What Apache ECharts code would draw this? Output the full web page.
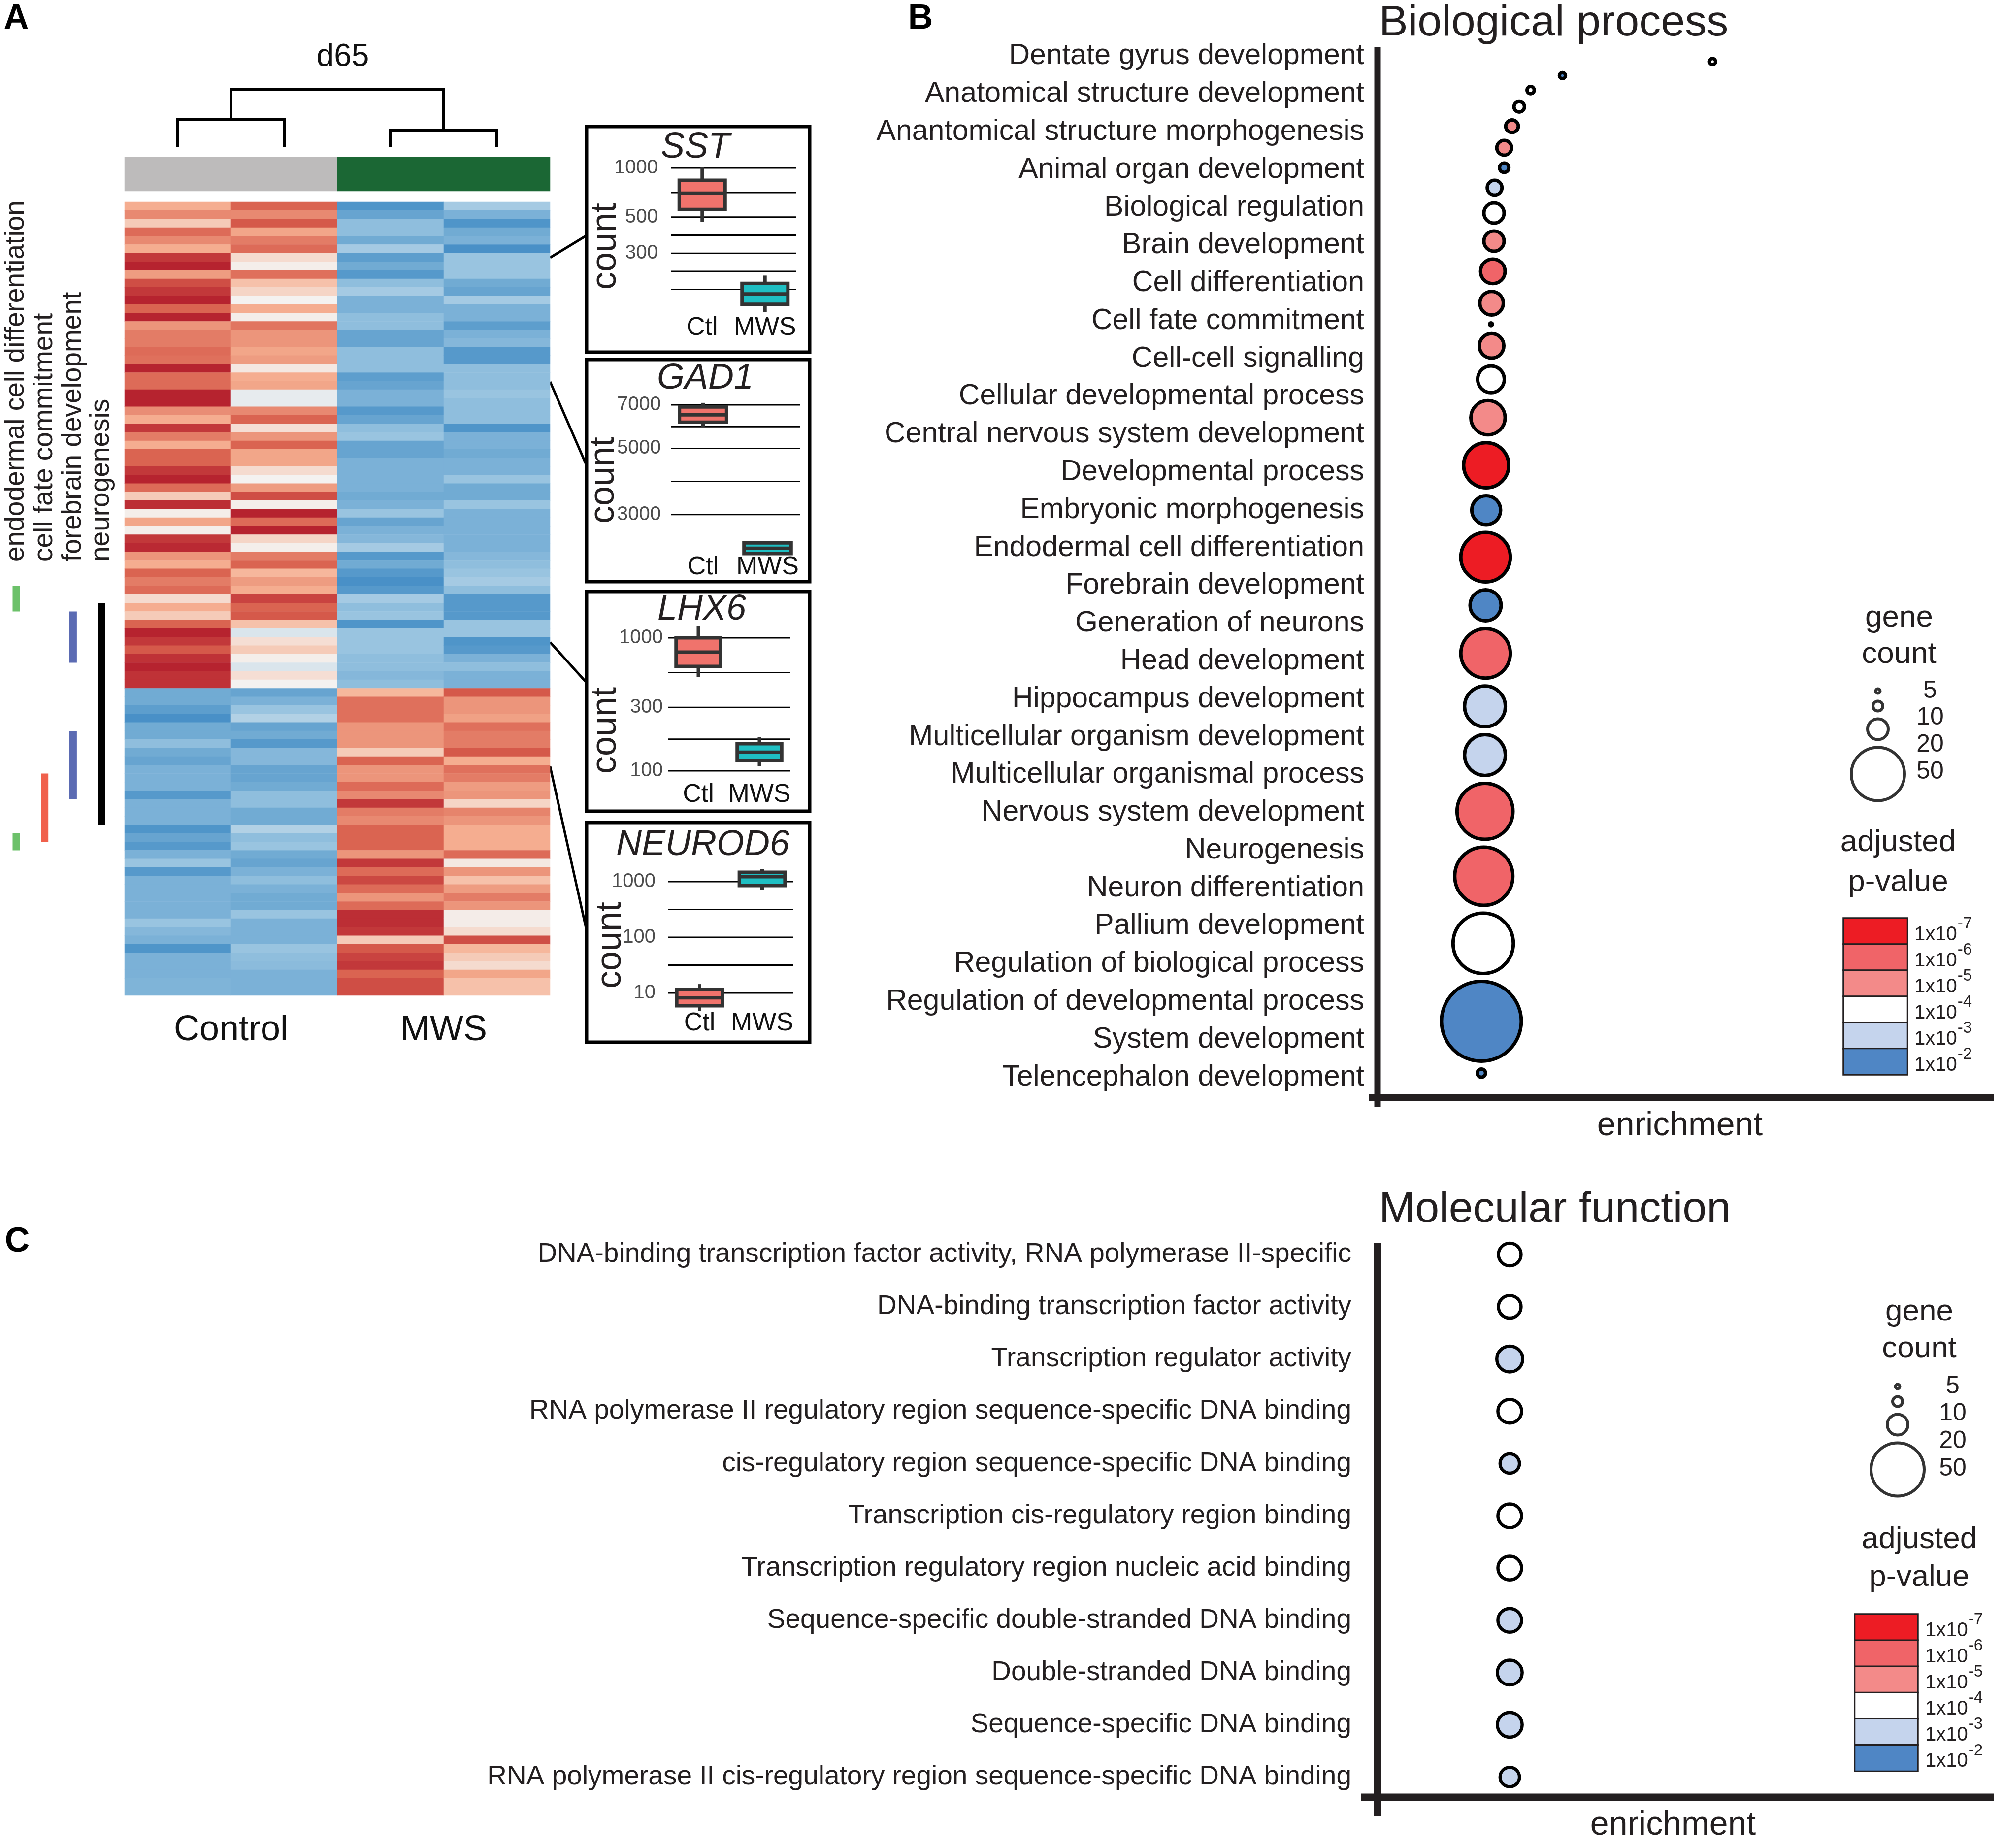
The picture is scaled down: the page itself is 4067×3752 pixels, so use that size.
<!DOCTYPE html>
<html><head><meta charset="utf-8">
<script src="https://cdn.jsdelivr.net/npm/echarts@6/dist/echarts.min.js"></script>
<style>html,body{margin:0;padding:0;background:#fff}#c{width:4067px;height:3752px}</style>
</head><body><div id="c"></div>
<script>
// ================= DATA =================
const sampleIds = ['Ctl-1', 'Ctl-2', 'MWS-1', 'MWS-2'];
const groupNames = ['Control', 'MWS'];
// z-scored expression per sample (rows top to bottom)
const heatCtl1 = [.35,.5,.2,.62,.5,.35,.85,.95,.42,.75,.85,.95,.65,.95,.45,.55,.55,.62,.6,.95,
  .62,.62,.95,.95,.48,.35,.85,.55,.35,.65,.65,.85,.95,.62,.2,.9,.02,.38,.02,.85,
  .92,.45,.35,.65,.55,.62,.12,.35,.2,.65,.95,.85,.7,.88,.95,.88,.88,
  -.55,-.55,-.65,-.8,-.55,-.55,-.4,-.55,-.6,-.5,-.5,-.5,-.7,-.5,-.5,-.5,-.75,-.6,-.7,-.5,
  -.35,-.7,-.5,-.5,-.5,-.5,-.5,-.35,-.45,-.5,-.75,-.5,-.5,-.5,-.48,-.48];
const heatCtl2 = [.65,.5,.7,.38,.55,.62,.12,.02,.6,.25,.15,0,.35,.02,.58,.45,.45,.38,.42,.05,
  .35,.38,-.05,-.05,.5,.65,.1,.45,.65,.38,.38,.12,0,.42,.75,.02,.95,.62,.95,.15,
  .02,.55,.65,.3,.42,.35,.8,.65,.7,.25,-.1,.1,.2,.02,-.1,.1,0,
  -.6,-.5,-.35,-.25,-.6,-.55,-.7,-.45,-.45,-.6,-.6,-.55,-.4,-.4,-.55,-.55,-.25,-.4,-.35,-.55,
  -.6,-.5,-.4,-.5,-.55,-.55,-.35,-.5,-.5,-.5,-.35,-.4,-.42,-.5,-.5,-.5];
const heatMws1 = [-.75,-.6,-.4,-.4,-.55,-.3,-.65,-.55,-.7,-.4,-.3,-.5,-.5,-.4,-.4,-.6,-.6,-.4,-.4,-.4,
  -.65,-.6,-.5,-.5,-.7,-.6,-.4,-.35,-.6,-.6,-.5,-.5,-.5,-.5,-.55,-.5,-.35,-.6,-.5,-.45,
  -.3,-.7,-.55,-.7,-.8,-.7,-.3,-.4,-.35,-.75,-.35,-.35,-.35,-.4,-.4,-.45,-.4,
  .3,.6,.6,.6,.45,.45,.45,.2,.65,.45,.45,.62,.5,.85,.55,.5,.65,.65,.65,.45,
  .85,.62,.78,.62,.45,.62,.9,.9,.85,.2,.7,.8,.85,.65,.75,.75];
const heatMws2 = [-.3,-.5,-.75,-.55,-.5,-.8,-.35,-.35,-.35,-.55,-.6,-.3,-.5,-.5,-.65,-.5,-.45,-.7,-.7,-.4,
  -.4,-.4,-.35,-.4,-.4,-.4,-.75,-.5,-.5,-.55,-.5,-.5,-.35,-.55,-.55,-.35,-.5,-.5,-.5,-.5,
  -.5,-.45,-.4,-.35,-.3,-.4,-.7,-.7,-.7,-.35,-.35,-.75,-.7,-.5,-.4,-.5,-.5,
  .7,.45,.45,.4,.6,.55,.55,.7,.35,.6,.55,.42,.45,.15,.52,.45,.35,.35,.35,.62,
  .05,.45,.25,.42,.55,.45,.03,.03,.12,.75,.3,.2,.12,.38,.25,.25];
// dendrogram merges: [leftX, rightX, leftChildHeight, rightChildHeight, mergeHeight] in column units
const dendroMerges = [[0.5, 1.5, 0, 0, 0.465], [2.5, 3.5, 0, 0, 0.263], [1.0, 3.0, 0.465, 0.263, 1.0]];
// gene-set annotation lanes
const laneNames = ['endodermal cell differentiation', 'cell fate commitment', 'forebrain development', 'neurogenesis'];
const laneSpans = [[0, 45, 48], [0, 74, 76], [1, 67, 75], [2, 48, 54], [2, 62, 70], [3, 47, 73]]; // [lane, firstRow, endRow]
// boxplots [min, Q1, median, Q3, max] (counts)
const boxGroups = ['Ctl', 'MWS'];
const sstCtl = [466, 557, 701, 840, 1014];
const sstMws = [131, 146, 169, 196, 219];
const gad1Ctl = [5920, 6120, 6480, 6890, 7110];
const gad1Mws = [2190, 2217, 2311, 2410, 2440];
const lhx6Ctl = [506, 610, 781, 1000, 1227];
const lhx6Mws = [108, 120, 138, 160, 180];
const neurod6Ctl = [4.8, 5.9, 8.2, 11.5, 14.4];
const neurod6Mws = [707, 850, 1226, 1472, 1665];
const sstTicks = [1000, 500, 300];
const gad1Ticks = [7000, 5000, 3000];
const lhx6Ticks = [1000, 300, 100];
const neurod6Ticks = [1000, 100, 10];
const sstLines = [1000, 707, 500, 387, 300, 232, 180];
const gad1Lines = [7000, 5916, 5000, 3873, 3000];
const lhx6Lines = [1000, 548, 300, 173, 100];
const neurod6Lines = [1000, 316, 100, 31.6, 10];
// GO Biological process
const bpTerms = ['Dentate gyrus development', 'Anatomical structure development', 'Anantomical structure morphogenesis',
  'Animal organ development', 'Biological regulation', 'Brain development', 'Cell differentiation', 'Cell fate commitment',
  'Cell-cell signalling', 'Cellular developmental process', 'Central nervous system development', 'Developmental process',
  'Embryonic morphogenesis', 'Endodermal cell differentiation', 'Forebrain development', 'Generation of neurons',
  'Head development', 'Hippocampus development', 'Multicellular organism development', 'Multicellular organismal process',
  'Nervous system development', 'Neurogenesis', 'Neuron differentiation', 'Pallium development',
  'Regulation of biological process', 'Regulation of developmental process', 'System development', 'Telencephalon development'];
const bpEnrich = [5.58, 3.08, 2.55, 2.36, 2.24, 2.11, 2.11, 1.95, 1.94, 1.94, 1.92, 1.90, 1.89, 1.90, 1.89, 1.84, 1.81, 1.81, 1.80, 1.80, 1.80, 1.79, 1.79, 1.79, 1.77, 1.76, 1.73, 1.73];
const bpCount = [7, 7, 8, 11, 13, 15, 10, 15, 20, 20, 24, 23, 4, 24, 26, 33, 43, 28, 47, 30, 47, 39, 39, 53, 55, 57, 75, 9];
const bpPexp = [-4, -2, -4, -4, -5, -5, -2, -3, -4, -5, -6, -5, -2, -5, -4, -5, -7, -2, -7, -2, -6, -3, -3, -6, -6, -4, -2, -2];
// GO Molecular function
const mfTerms = ['DNA-binding transcription factor activity, RNA polymerase II-specific', 'DNA-binding transcription factor activity',
  'Transcription regulator activity', 'RNA polymerase II regulatory region sequence-specific DNA binding',
  'cis-regulatory region sequence-specific DNA binding', 'Transcription cis-regulatory region binding',
  'Transcription regulatory region nucleic acid binding', 'Sequence-specific double-stranded DNA binding',
  'Double-stranded DNA binding', 'Sequence-specific DNA binding', 'RNA polymerase II cis-regulatory region sequence-specific DNA binding'];
const mfEnrich = [2.16, 2.16, 2.16, 2.16, 2.16, 2.16, 2.16, 2.16, 2.16, 2.16, 2.16];
const mfCount = [22, 22, 25, 23, 19, 23, 23, 23, 24, 24, 19];
const mfPexp = [-4, -4, -3, -4, -3, -4, -4, -3, -3, -3, -3];
// legends
const sizeLegendCounts = [5, 10, 20, 50];
const pLevels = [-7, -6, -5, -4, -3, -2];

// ================= STYLE / LAYOUT =================
const FONT = 'Liberation Sans, Arial, Helvetica, sans-serif';
const INK = '#231f20';
const heatColors = ['#2f7fbf', '#5a9ccc', '#9cc6e1', '#f4f2f0', '#f6b193', '#d9604e', '#b0182a'];
const groupColors = ['#bdbbbb', '#1b6734'];
const laneColors = ['#6cc16a', '#f0604c', '#5b6bb3', '#000000'];
const boxFill = ['#f0736c', '#1fbfc3'];
const pColor = { '-7': '#ed1c24', '-6': '#f06468', '-5': '#f38a89', '-4': '#ffffff', '-3': '#c5d4ed', '-2': '#4f86c5' };
const visDiam = c => 2.2 * c + 4;

const grids = [], xAxes = [], yAxes = [], series = [], graphics = [];
const addGrid = g => { grids.push(Object.assign({ containLabel: false, outerBoundsMode: 'none' }, g)); return grids.length - 1; };
const addX = o => { xAxes.push(o); return xAxes.length - 1; };
const addY = o => { yAxes.push(o); return yAxes.length - 1; };
const hiddenVal = (gi, min, max, extra) => Object.assign({ gridIndex: gi, type: 'value', min, max, show: false }, extra || {});
const noLines = { axisLine: { show: false }, axisTick: { show: false }, splitLine: { show: false } };

function stackCenters(counts, start, gap) {
  const out = []; let y = start;
  counts.forEach((c, i) => { if (i > 0) y += (visDiam(counts[i - 1]) + visDiam(c)) / 2 + gap; out.push(y); });
  return out;
}
function txt(text, x, y, size, o) {
  o = o || {};
  return { type: 'text', x, y, rotation: o.rot || 0, silent: true, z: 10,
    style: { text, x: 0, y: 0, fontSize: size, fontFamily: FONT, fontWeight: o.bold ? 'bold' : 'normal',
      fontStyle: o.italic ? 'italic' : 'normal', fill: o.color || INK, align: o.align || 'center', verticalAlign: 'middle' } };
}

// ---------- Heatmap ----------
const gHeat = addGrid({ left: 253, top: 410, width: 864, height: 1611 });
const rowIds = heatCtl1.map((_, i) => 'g' + (i + 1));
const xHeat = addX({ gridIndex: gHeat, type: 'category', data: sampleIds, show: false });
addX(Object.assign({ gridIndex: gHeat, type: 'category', data: groupNames, position: 'bottom',
  axisLabel: { fontSize: 72, color: '#111', margin: 71, verticalAlign: 'middle', fontFamily: FONT, interval: 0 } }, noLines));
const yHeat = addY({ gridIndex: gHeat, type: 'category', data: rowIds, inverse: true, show: false });
const heatData = [];
[heatCtl1, heatCtl2, heatMws1, heatMws2].forEach((col, ci) => col.forEach((v, ri) => heatData.push([ci, ri, v])));
series.push({ type: 'heatmap', xAxisIndex: xHeat, yAxisIndex: yHeat, data: heatData, silent: true, progressive: 0,
  itemStyle: { borderWidth: 0 } });
const heatSeriesIndex = series.length - 1;

// ---------- Dendrogram ----------
const gDen = addGrid({ left: 253, top: 181, width: 864, height: 114 });
const xDen = addX(hiddenVal(gDen, 0, 4)), yDen = addY(hiddenVal(gDen, 0, 1));
dendroMerges.forEach(m => series.push({ type: 'line', xAxisIndex: xDen, yAxisIndex: yDen, silent: true, clip: false,
  symbol: 'none', data: [[m[0], m[2]], [m[0], m[4]], [m[1], m[4]], [m[1], m[3]]],
  lineStyle: { color: '#000', width: 6, cap: 'square', join: 'miter' } }));

// ---------- Group colour bar ----------
const gBar = addGrid({ left: 253, top: 319, width: 864, height: 69 });
const xBar = addX({ gridIndex: gBar, type: 'category', data: groupNames, show: false });
const yBar = addY({ gridIndex: gBar, type: 'category', data: ['group'], show: false });
series.push({ type: 'heatmap', xAxisIndex: xBar, yAxisIndex: yBar, silent: true,
  data: groupNames.map((g, i) => ({ value: [i, 0, i], itemStyle: { color: groupColors[i] } })) });

// ---------- Annotation lanes ----------
const gLane = addGrid({ left: 0, top: 410, width: 253, height: 1611 });
const xLane = addX(hiddenVal(gLane, -0.572, 3.813)), yLane = addY(hiddenVal(gLane, 0, rowIds.length, { inverse: true }));
laneSpans.forEach(s => series.push({ type: 'line', xAxisIndex: xLane, yAxisIndex: yLane, silent: true, clip: false,
  symbol: 'none', data: [[s[0], s[1]], [s[0], s[2]]], lineStyle: { color: laneColors[s[0]], width: 15, cap: 'butt' } }));
const gLaneLbl = addGrid({ left: 0, top: 1144, width: 253, height: 10 });
addX(Object.assign({ gridIndex: gLaneLbl, type: 'value', min: -0.572, max: 3.813, position: 'top',
  axisLabel: { customValues: laneNames.map((_, i) => i), rotate: 90, margin: 4, fontSize: 55, color: INK, fontFamily: FONT,
    formatter: v => laneNames[Math.round(v)] } }, noLines));
addY(hiddenVal(gLaneLbl, 0, 1));

// ---------- Boxplot insets ----------
const insets = [
  { gene: 'SST', ctl: sstCtl, mws: sstMws, ticks: sstTicks, lines: sstLines,
    grid: { left: 1362, top: 324.5, width: 255, height: 314.5 }, min: 2.1, max: 3.05, yM: 26, xM: 27,
    frame: [1191, 257, 453, 458], title: [1412, 300], count: [1230, 500], link: [1117, 523, 1191, 478] },
  { gene: 'GAD1', ctl: gad1Ctl, mws: gad1Mws, ticks: gad1Ticks, lines: gad1Lines,
    grid: { left: 1362, top: 806.9, width: 262, height: 320.7 }, min: 3.34, max: 3.87, yM: 20, xM: 24,
    frame: [1191, 730, 453, 451], title: [1432, 769], count: [1226, 975], link: [1117, 775, 1191, 945] },
  { gene: 'LHX6', ctl: lhx6Ctl, mws: lhx6Mws, ticks: lhx6Ticks, lines: lhx6Lines,
    grid: { left: 1356, top: 1254.5, width: 248, height: 351 }, min: 1.85, max: 3.15, yM: 10, xM: 8,
    frame: [1191, 1201, 453, 446], title: [1425, 1238], count: [1230, 1483], link: [1117, 1304, 1191, 1386] },
  { gene: 'NEUROD6', ctl: neurod6Ctl, mws: neurod6Mws, ticks: neurod6Ticks, lines: neurod6Lines,
    grid: { left: 1357, top: 1756.1, width: 254, height: 305.1 }, min: 0.6, max: 3.3, yM: 26, xM: 16,
    frame: [1191, 1670, 453, 446], title: [1427, 1716], count: [1240, 1919], link: [1117, 1556, 1191, 1889] }
];
function renderGridLine(params, api) {
  const y = api.coord([0, api.value(1)])[1], cs = params.coordSys;
  return { type: 'line', shape: { x1: cs.x, y1: y, x2: cs.x + cs.width, y2: y }, style: { stroke: '#000', lineWidth: 3 } };
}
function renderBox(params, api) {
  const c = api.value(0);
  const p = [1, 2, 3, 4, 5].map(k => api.coord([c, api.value(k)]));
  const bw = api.size([1, 0])[0] * 0.73, x = p[0][0];
  return { type: 'group', children: [
    { type: 'line', shape: { x1: x, y1: p[4][1], x2: x, y2: p[0][1] }, style: { stroke: '#333', lineWidth: 7 } },
    { type: 'rect', shape: { x: x - bw / 2, y: p[3][1], width: bw, height: p[1][1] - p[3][1] },
      style: { fill: boxFill[c], stroke: '#333', lineWidth: 7 } },
    { type: 'line', shape: { x1: x - bw / 2, y1: p[2][1], x2: x + bw / 2, y2: p[2][1] }, style: { stroke: '#333', lineWidth: 7 } }
  ] };
}
insets.forEach(ins => {
  const gi = addGrid(ins.grid);
  const xi = addX(Object.assign({ gridIndex: gi, type: 'category', data: boxGroups,
    axisLabel: { fontSize: 52, color: '#111', margin: ins.xM, verticalAlign: 'middle', interval: 0, fontFamily: FONT } }, noLines));
  const yi = addY(Object.assign({ gridIndex: gi, type: 'value', min: ins.min, max: ins.max,
    axisLabel: { customValues: ins.ticks.map(Math.log10), formatter: v => String(Math.round(Math.pow(10, v))),
      fontSize: 40, color: '#4d4d4d', margin: ins.yM, fontFamily: FONT } }, noLines));
  series.push({ type: 'custom', xAxisIndex: xi, yAxisIndex: yi, silent: true, z: 1, clip: false,
    encode: { x: 0, y: 1 }, renderItem: renderGridLine, data: ins.lines.map(v => [0, Math.log10(v)]) });
  series.push({ type: 'custom', xAxisIndex: xi, yAxisIndex: yi, silent: true, z: 3, clip: false,
    encode: { x: 0, y: [1, 2, 3, 4, 5] }, renderItem: renderBox,
    data: [[0].concat(ins.ctl.map(Math.log10)), [1].concat(ins.mws.map(Math.log10))] });
  graphics.push({ type: 'rect', silent: true, shape: { x: ins.frame[0], y: ins.frame[1], width: ins.frame[2], height: ins.frame[3] },
    style: { fill: 'rgba(0,0,0,0)', stroke: '#000', lineWidth: 7 } });
  graphics.push({ type: 'line', silent: true, shape: { x1: ins.link[0], y1: ins.link[1], x2: ins.link[2], y2: ins.link[3] },
    style: { stroke: '#000', lineWidth: 5 } });
  graphics.push(txt(ins.gene, ins.title[0], ins.title[1], 72, { italic: true }));
  graphics.push(txt('count', ins.count[0], ins.count[1], 72, { rot: Math.PI / 2 }));
});

// ---------- Bubble panels ----------
function bubbleSeries(xi, yi, xs, ys, counts, pexps, lw) {
  return { type: 'scatter', xAxisIndex: xi, yAxisIndex: yi, silent: true, clip: false, z: 3,
    data: xs.map((x, i) => ({ value: [x, ys[i], counts[i], pexps[i]],
      symbolSize: visDiam(counts[i]) - lw,
      itemStyle: { color: pColor[String(pexps[i])], borderColor: '#000', borderWidth: lw, opacity: 1 } })) };
}
function sizeLegend(left, top, height, start, labelMargin) {
  const gi = addGrid({ left, top, width: 106, height });
  const xi = addX(hiddenVal(gi, 0, 1));
  addY(Object.assign({ gridIndex: gi, type: 'category', data: sizeLegendCounts.map(String), inverse: true, position: 'right',
    axisLabel: { fontSize: 50, color: INK, margin: labelMargin, align: 'center', interval: 0, fontFamily: FONT } }, noLines));
  const yi = addY(hiddenVal(gi, 0, height, { inverse: true }));
  const ys = stackCenters(sizeLegendCounts, start, 10);
  series.push({ type: 'scatter', xAxisIndex: xi, yAxisIndex: yi, silent: true, clip: false,
    data: sizeLegendCounts.map((c, i) => ({ value: [0.5, ys[i], c], symbolSize: visDiam(c) - 6,
      itemStyle: { color: '#fff', borderColor: '#000', borderWidth: 6 } })) });
}
function colorLegend(left, top, width, height, margin) {
  const gi = addGrid({ left, top, width, height });
  const xi = addX({ gridIndex: gi, type: 'category', data: ['p'], show: false });
  const yi = addY(Object.assign({ gridIndex: gi, type: 'category', data: pLevels.map(String), inverse: true, position: 'right',
    axisLabel: { margin, interval: 0, formatter: v => '{b|1x10}{s|' + v + '}',
      rich: { b: { fontSize: 40, color: INK, fontFamily: FONT, padding: [14, 0, 0, 0] },
              s: { fontSize: 33, color: INK, fontFamily: FONT, padding: [0, 0, 30, 1] } } } }, noLines));
  series.push({ type: 'heatmap', xAxisIndex: xi, yAxisIndex: yi, silent: true,
    itemStyle: { borderColor: INK, borderWidth: 3 },
    data: pLevels.map((p, i) => ({ value: [0, i, p], itemStyle: { color: pColor[String(p)], borderColor: INK, borderWidth: 3 } })) });
}

// Panel B
const gB = addGrid({ left: 2797, top: 75.7, width: 1219, height: 2150 });
const xB = addX(hiddenVal(gB, 0, 10));
addY(Object.assign({ gridIndex: gB, type: 'category', data: bpTerms, inverse: true,
  axisLabel: { fontSize: 59, color: INK, margin: 27, interval: 0, fontFamily: FONT } }, noLines));
const yBpos = addY(hiddenVal(gB, 0, 2150, { inverse: true }));
series.push(bubbleSeries(xB, yBpos, bpEnrich, stackCenters(bpCount, 49.3, 9), bpCount, bpPexp, 7));
sizeLegend(3760, 1375.7, 218.7, 27.3, 53);
colorLegend(3743, 1864, 130, 318, 14);

// Panel C
const gC = addGrid({ left: 2797, top: 2494, width: 1243, height: 1167 });
const xC = addX(hiddenVal(gC, 0, 10));
const yC = addY(Object.assign({ gridIndex: gC, type: 'category', data: mfTerms, inverse: true,
  axisLabel: { fontSize: 55, color: INK, margin: 53, interval: 0, fontFamily: FONT } }, noLines));
series.push(bubbleSeries(xC, yC, mfEnrich, mfTerms.map((_, i) => i), mfCount, mfPexp, 6.5));
sizeLegend(3800, 2787, 222.8, 28, 59);
colorLegend(3766, 3277, 128, 319, 15);

// ---------- Decorative text & axis crosses ----------
const line = (x1, y1, x2, y2, w) => ({ type: 'line', silent: true, z: 5, shape: { x1, y1, x2, y2 }, style: { stroke: INK, lineWidth: w } });
graphics.push(
  txt('A', 33, 39, 70, { bold: true, color: '#000' }), txt('B', 1869, 39, 70, { bold: true, color: '#000' }),
  txt('C', 35, 2522, 70, { bold: true, color: '#000' }),
  txt('d65', 696, 116, 64, { color: '#111' }),
  txt('Biological process', 2800, 48, 88, { align: 'left' }),
  txt('Molecular function', 2800, 2457, 88, { align: 'left' }),
  txt('enrichment', 3411, 2286, 68), txt('enrichment', 3397, 3706, 68),
  txt('gene', 3856, 1255, 62), txt('count', 3856, 1329, 62), txt('adjusted', 3854, 1711, 62), txt('p-value', 3854, 1792, 62),
  txt('gene', 3897, 2664, 62), txt('count', 3897, 2739, 62), txt('adjusted', 3897, 3126, 62), txt('p-value', 3897, 3203, 62),
  line(2797, 95, 2797, 2248, 13), line(2780, 2228, 4048, 2228, 14),
  line(2797, 2524, 2797, 3688, 14), line(2763, 3649, 4048, 3649, 15)
);

const chart = echarts.init(document.getElementById('c'), null, { renderer: 'canvas' });
chart.setOption({
  animation: false,
  backgroundColor: '#ffffff',
  textStyle: { fontFamily: FONT },
  grid: grids, xAxis: xAxes, yAxis: yAxes, series,
  visualMap: [{ type: 'continuous', seriesIndex: heatSeriesIndex, dimension: 2, min: -1, max: 1, show: false,
    inRange: { color: heatColors } }],
  graphic: graphics
});
</script></body></html>
